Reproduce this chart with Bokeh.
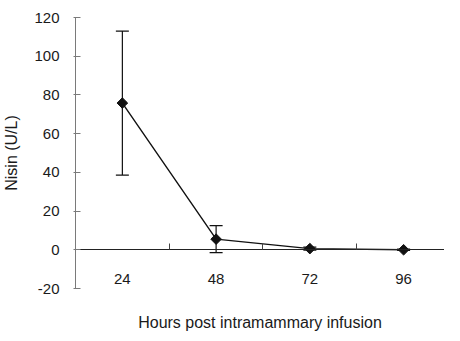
from bokeh.plotting import figure
from bokeh.models import (ColumnDataSource, Whisker, TeeHead, LinearAxis, FixedTicker,
                          Range1d)
from bokeh.embed import file_html
from bokeh.resources import INLINE

hours = ["24", "48", "72", "96"]
nisin = [75.8, 5.5, 0.6, 0.0]
sd = [37.2, 7.0, 0.8, 0.3]
yticks = [-20, 0, 20, 40, 60, 80, 100, 120]

FONT = "Liberation Sans"
TXT = "#1a1a1a"

xpos = [i + 0.5 for i in range(len(hours))]
src = ColumnDataSource(dict(
    x=xpos, y=nisin,
    upper=[m + s for m, s in zip(nisin, sd)],
    lower=[m - s for m, s in zip(nisin, sd)],
))

W, H = 444, 333
left, top, bottom = 73, 17, 41
frame_w = W - left
cat_w = 94.25

p = figure(width=W, height=H, output_backend="svg", toolbar_location=None,
           x_range=Range1d(0, frame_w / cat_w), y_range=Range1d(-20, 120),
           min_border_left=left, min_border_right=0, min_border_top=top,
           min_border_bottom=bottom, x_axis_location=None, y_axis_location=None)
p.grid.visible = False
p.outline_line_color = None
p.background_fill_color = "white"
p.border_fill_color = "white"

# y axis
yax = LinearAxis(ticker=FixedTicker(ticks=yticks), axis_label="Nisin (U/L)",
                 major_label_overrides={t: str(t) for t in yticks})
yax.axis_line_color = "#7a7a7a"
yax.major_tick_line_color = "#7a7a7a"
yax.major_tick_in = 5
yax.major_tick_out = 2
yax.minor_tick_line_color = None
yax.major_label_standoff = 14
yax.major_label_text_font = FONT
yax.major_label_text_font_size = "15px"
yax.major_label_text_color = TXT
yax.axis_label_text_font = FONT
yax.axis_label_text_font_size = "16px"
yax.axis_label_text_font_style = "normal"
yax.axis_label_text_color = TXT
yax.axis_label_standoff = 11
p.add_layout(yax, "left")

# category labels + title on the bottom axis (invisible line)
lax = LinearAxis(ticker=FixedTicker(ticks=xpos),
                 major_label_overrides={x: h for x, h in zip(xpos, hours)},
                 axis_label="Hours post intramammary infusion")
lax.axis_line_color = None
lax.major_tick_line_color = None
lax.minor_tick_line_color = None
lax.major_tick_out = 0
lax.major_tick_in = 0
lax.major_label_standoff = -15
lax.major_label_text_font = FONT
lax.major_label_text_font_size = "15px"
lax.major_label_text_color = TXT
lax.axis_label_text_font = FONT
lax.axis_label_text_font_size = "16px"
lax.axis_label_text_font_style = "normal"
lax.axis_label_text_color = TXT
lax.axis_label_standoff = 27
p.add_layout(lax, "below")

# x axis line at zero with category boundary ticks
bticks = list(range(len(hours) + 1))
xax = LinearAxis(fixed_location=0, ticker=FixedTicker(ticks=bticks),
                 major_label_overrides={b: "" for b in bticks})
xax.axis_line_color = "#222222"
xax.major_tick_line_color = "#444444"
xax.major_tick_in = 6
xax.major_tick_out = 0
xax.minor_tick_line_color = None
xax.major_label_standoff = 0
xax.major_label_text_font_size = "1px"
p.add_layout(xax, "below")

w = Whisker(source=src, base="x", upper="upper", lower="lower",
            line_color="#111111", line_width=1.2,
            upper_head=TeeHead(size=13, line_color="#111111", line_width=1.2),
            lower_head=TeeHead(size=13, line_color="#111111", line_width=1.2))
p.add_layout(w)

p.line("x", "y", source=src, line_color="#111111", line_width=1.4)
p.scatter("x", "y", source=src, marker="square", angle=0.785398, size=7.5,
          fill_color="#111111", line_color="#111111")

open("out.html", "w").write(file_html(p, INLINE))
